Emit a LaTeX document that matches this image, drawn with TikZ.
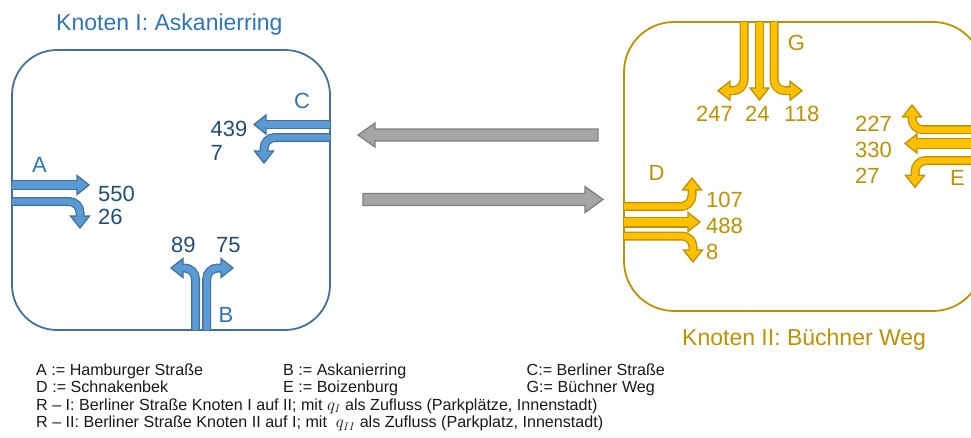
\documentclass[tikz,border=0pt]{standalone}
\usepackage{fontspec}
\setmainfont{Liberation Sans}
\definecolor{blueD}{HTML}{41719C}
\definecolor{blueL}{HTML}{5B9BD5}
\definecolor{blueT}{HTML}{2E75B6}
\definecolor{blueN}{HTML}{1F4E79}
\definecolor{goldD}{HTML}{BF9000}
\definecolor{goldL}{HTML}{FFC000}
\definecolor{goldT}{HTML}{BF9000}
\definecolor{grayD}{HTML}{7F7F7F}
\definecolor{grayL}{HTML}{A5A5A5}
\tikzset{
  pics/fhead/.style n args={3}{code={
    \fill[#2] (-12,-9.5) -- (0,0) -- (-12,9.5) -- cycle;
    \draw[#1,line width=1.3pt,line join=miter] (-12,{#3/2-1.3}) -- (-12,9.5) -- (0,0) -- (-12,-9.5) -- (-12,{-#3/2+1.3});
  }},
  boxbase/.style={line width=1.8pt, inner sep=0pt, fill=none},
  boxB/.style={boxbase, draw=blueD, rounded corners=45pt, minimum width=318pt, minimum height=280pt},
  boxG/.style={boxbase, draw=goldD, rounded corners=50pt, minimum width=359pt, minimum height=289pt},
  txt/.style={inner sep=0pt, font=\fontsize{22}{26}\selectfont},
  numB/.style={txt, anchor=base west, text=blueN},
  numG/.style={txt, anchor=base west, text=goldT},
  letB/.style={txt, anchor=base, text=blueT},
  letG/.style={txt, anchor=base, text=goldT},
  title/.style={inner sep=0pt, anchor=base west, font=\fontsize{23}{27}\selectfont},
  leg/.style={inner sep=0pt, anchor=base west, font=\fontsize{16.1}{17.5}\selectfont, text=black!90},
  grayA/.style={draw=grayD, fill=grayL, line width=1.3pt, line join=miter},
}
\newcommand\farrow[6][9]{%
  \draw[#2,line width=#1pt,rounded corners=11pt] #4;
  \draw[#3,line width=#1pt-2.6pt,rounded corners=11pt] #4;
  \pic[rotate=#6] at #5 {fhead={#2}{#3}{#1}};
}
\begin{document}
\begin{tikzpicture}[x=1pt,y=-1pt]
\useasboundingbox (0,0) rectangle (971,437);
\clip (0,0) rectangle (971,437);

% boxes
\node[boxB] (k1) at (171,190) {};
\node[boxG] (k2) at (803.5,166.5) {};

% titles
\node[title, text=blueT] (t1) at (56,30) {Knoten I: Askanierring};
\node[title, text=goldT] (t2) at (682,345) {Knoten II: Büchner Weg};

% Knoten I arrows
\farrow[10]{blueD}{blueL}{(12,185) -- (77,185)}{(89,185)}{0}
\farrow{blueD}{blueL}{(12,201.5) -- (80,201.5) -- (80,216)}{(80,228)}{-90}
\farrow{blueD}{blueL}{(330,124.5) -- (266,124.5)}{(254,124.5)}{180}
\farrow{blueD}{blueL}{(330,137.5) -- (264,137.5) -- (264,151)}{(264,163)}{-90}
\farrow{blueD}{blueL}{(195.5,330) -- (195.5,268) -- (183,268)}{(171,268)}{180}
\farrow{blueD}{blueL}{(206.7,330) -- (206.7,268) -- (221,268)}{(233,268)}{0}

% Knoten II arrows
\farrow{goldD}{goldL}{(744,22) -- (744,90.7) -- (730,90.7)}{(718,90.7)}{180}
\farrow{goldD}{goldL}{(759.5,22) -- (759.5,88)}{(759.5,100)}{-90}
\farrow{goldD}{goldL}{(774,22) -- (774,90.7) -- (790,90.7)}{(802,90.7)}{0}
\farrow{goldD}{goldL}{(985,129.7) -- (912,129.7) -- (912,117)}{(912,105)}{90}
\farrow[11]{goldD}{goldL}{(985,143.5) -- (917,143.5)}{(905,143.5)}{180}
\farrow{goldD}{goldL}{(985,160.5) -- (915,160.5) -- (915,175.3)}{(915,187.3)}{-90}
\farrow{goldD}{goldL}{(624,206.5) -- (692,206.5) -- (692,190)}{(692,178)}{90}
\farrow[11]{goldD}{goldL}{(624,222) -- (688,222)}{(700,222)}{0}
\farrow{goldD}{goldL}{(624,236) -- (693,236) -- (693,250)}{(693,262)}{-90}

% gray connection arrows
\draw[grayA] (598,129) -- (375,129) -- (375,123) -- (358,135) -- (375,147) -- (375,141) -- (598,141) -- cycle;
\draw[grayA] (363,193.5) -- (585,193.5) -- (585,186.5) -- (603,199.5) -- (585,212.5) -- (585,205.5) -- (363,205.5) -- cycle;

% labels Knoten I
\node[letB] (lA) at (39.5,172) {A};
\node[letB] (lB) at (226,322) {B};
\node[letB] (lC) at (302,108.3) {C};
\node[numB] (n550) at (98,201.7) {550};
\node[numB] (n26) at (98,224.5) {26};
\node[numB] (n439) at (210.5,136.7) {439};
\node[numB] (n7) at (210.5,160.7) {7};
\node[numB] (n89) at (171,252) {89};
\node[numB] (n75) at (216,252) {75};

% labels Knoten II
\node[letG] (lG) at (796.5,50) {G};
\node[letG] (lD) at (656.5,180) {D};
\node[numG, anchor=base west] (lE) at (950,185) {E};
\node[numG] (n247) at (696,121.7) {247};
\node[numG] (n24) at (745,121.7) {24};
\node[numG] (n118) at (784,121.7) {118};
\node[numG] (n227) at (855,131.7) {227};
\node[numG] (n330) at (855,157.3) {330};
\node[numG] (n27) at (855,183.3) {27};
\node[numG] (n107) at (706,207) {107};
\node[numG] (n488) at (706,233.3) {488};
\node[numG] (n8) at (706,259.5) {8};

% legend
\node[leg] (a1) at (36,375) {A := Hamburger Straße};
\node[leg] (a2) at (283,375) {B := Askanierring};
\node[leg] (a3) at (526.5,375) {C:= Berliner Straße};
\node[leg] (b1) at (36,392.5) {D := Schnakenbek};
\node[leg] (b2) at (283,392.5) {E := Boizenburg};
\node[leg] (b3) at (526.5,392.5) {G:= Büchner Weg};
\node[leg] (r1) at (36,410) {R – I: Berliner Straße Knoten I auf II; mit $q_I$ als Zufluss (Parkplätze, Innenstadt)};
\node[leg] (r2) at (36,427.5) {R – II: Berliner Straße Knoten II auf I; mit \ $q_{II}$ als Zufluss (Parkplatz, Innenstadt)};
\end{tikzpicture}
\end{document}
